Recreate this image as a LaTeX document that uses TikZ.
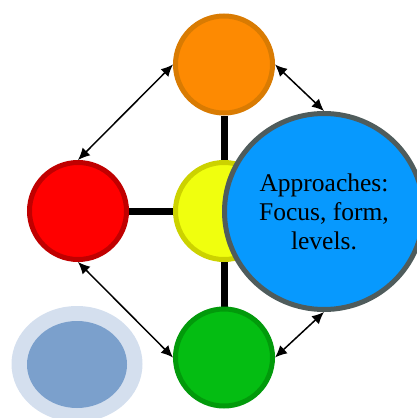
\documentclass[tikz,border=0pt]{standalone}
\usepackage{fontspec}
\setmainfont{Liberation Serif}
\usetikzlibrary{shapes.geometric,arrows.meta,backgrounds}
\definecolor{orfill}{HTML}{FD8A02}
\definecolor{ordraw}{HTML}{D97B02}
\definecolor{rdfill}{HTML}{FF0000}
\definecolor{rddraw}{HTML}{C00000}
\definecolor{ylfill}{HTML}{F0FF0E}
\definecolor{yldraw}{HTML}{CCD200}
\definecolor{grfill}{HTML}{04BD12}
\definecolor{grdraw}{HTML}{029A0B}
\definecolor{blfill}{HTML}{0799FE}
\definecolor{bldraw}{HTML}{4F5C5C}
\definecolor{lbout}{HTML}{D4DFEE}
\definecolor{lbin}{HTML}{7BA0CC}
\tikzset{
  ball/.style={circle, line width=5pt, minimum size=97pt, inner sep=0pt},
  bigball/.style={ellipse, line width=5pt, minimum width=199pt, minimum height=196pt, inner sep=0pt, align=center, font=\fontsize{25.5}{29}\selectfont},
  blob/.style={ellipse, draw=none, inner sep=0pt},
  spoke/.style={line width=7pt},
  link/.style={line width=1.5pt, {Latex[length=12pt,width=11pt]}-{Latex[length=12pt,width=11pt]}}
}
\begin{document}
\begin{tikzpicture}[x=1pt,y=-1pt]
\useasboundingbox (0,0) rectangle (417,418);
\node[blob, fill=lbout, minimum width=131pt, minimum height=116pt] (lbo) at (77,364) {};
\node[blob, fill=lbin, minimum width=100pt, minimum height=87pt] (lbi) at (77,364.5) {};
\node[ball, fill=orfill, draw=ordraw] (o) at (224,64.5) {};
\node[ball, fill=rdfill, draw=rddraw] (r) at (78,211) {};
\node[ball, fill=ylfill, draw=yldraw] (y) at (224,211) {};
\node[ball, fill=grfill, draw=grdraw] (g) at (224,357.5) {};
\node[bigball, fill=blfill, draw=bldraw] (b) at (324,211.5) {Approaches:\\Focus, form,\\levels.};
\begin{scope}[on background layer]
\draw[spoke] (y) -- (o);
\draw[spoke] (y) -- (r);
\draw[spoke] (y) -- (g);
\end{scope}
\draw[link] (o.west) -- (r.north);
\draw[link] (o.east) -- (b.north);
\draw[link] (r.south) -- (g.west);
\draw[link] (g.east) -- (b.south);
\end{tikzpicture}
\end{document}
